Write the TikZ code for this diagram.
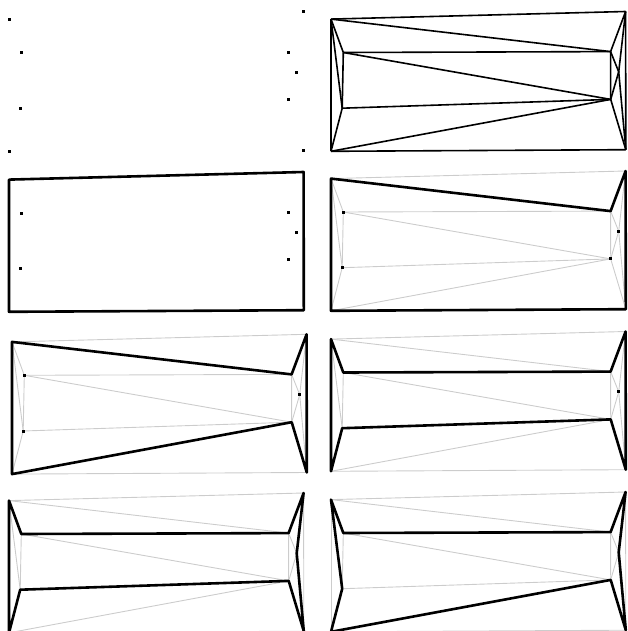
\documentclass[tikz,border=0pt]{standalone}
\usepackage{tikz}
\usetikzlibrary{positioning}
\definecolor{meshgray}{HTML}{CCCCCC}
\tikzset{
  x=1pt, y=-1pt,
  wire/.style={draw=black, line width=1.6pt, line join=round},
  edge/.style={draw=meshgray, line width=0.9pt},
  front/.style={draw=black, line width=2.6pt, line join=round, line cap=round},
  vtx/.style={rectangle, fill=black, minimum size=3pt, inner sep=0pt}
}
% the nine sites of one pane
\newcommand\placesites{%
  \coordinate (tl) at (9,19.6);
  \coordinate (tr) at (303.6,12);
  \coordinate (br) at (303.8,150.2);
  \coordinate (bl) at (9,151.8);
  \coordinate (la) at (21.3,53);
  \coordinate (lb) at (20.2,108.7);
  \coordinate (ra) at (288.6,52.1);
  \coordinate (rb) at (296.7,72.3);
  \coordinate (rc) at (288.7,99.9);
}
\newcommand\meshedges[1]{%
  \foreach \u/\v in {tl/tr,tr/br,br/bl,bl/tl,tl/ra,tl/la,tl/lb,la/lb,bl/lb,
    la/ra,la/rc,lb/rc,bl/rc,tr/ra,tr/rb,br/rb,br/rc,ra/rb,rb/rc,ra/rc}
    \draw[#1] (\u) -- (\v);
}
\newcommand\sitedots[2]{%
  \foreach \p in {#2}
    \node[vtx] (#1-\p) at (\p) {};
}

\begin{document}
\begin{tikzpicture}
  \useasboundingbox (0,0) rectangle (628,631);
  % row 1
  \begin{scope}[shift={(0,0)}]
    \placesites
    \sitedots{a}{tl,tr,br,bl,la,lb,ra,rb,rc}
  \end{scope}
  \begin{scope}[shift={(322,-0.5)}]
    \placesites
    \meshedges{wire}
  \end{scope}
  % row 2
  \begin{scope}[shift={(0,160)}]
    \placesites
    \draw[front] (tl) -- (tr) -- (br) -- (bl) -- cycle;
    \sitedots{c}{la,lb,ra,rb,rc}
  \end{scope}
  \begin{scope}[shift={(322,159)}]
    \placesites
    \meshedges{edge}
    \draw[front] (tl) -- (ra) -- (tr) -- (br) -- (bl) -- cycle;
    \sitedots{d}{la,lb,rb,rc}
  \end{scope}
  % row 3
  \begin{scope}[shift={(3,322.3)}]
    \placesites
    \meshedges{edge}
    \draw[front] (tl) -- (ra) -- (tr) -- (br) -- (rc) -- (bl) -- cycle;
    \sitedots{e}{la,lb,rb}
  \end{scope}
  \begin{scope}[shift={(322,319.5)}]
    \placesites
    \meshedges{edge}
    \draw[front] (tl) -- (la) -- (ra) -- (tr) -- (br) -- (rc) -- (lb) -- (bl) -- cycle;
    \sitedots{f}{rb}
  \end{scope}
  % row 4
  \begin{scope}[shift={(0,481)}]
    \placesites
    \meshedges{edge}
    \draw[front] (tl) -- (la) -- (ra) -- (tr) -- (rb) -- (br) -- (rc) -- (lb) -- (bl) -- cycle;
  \end{scope}
  \begin{scope}[shift={(322,480)}]
    \placesites
    \meshedges{edge}
    \draw[front] (tl) -- (la) -- (ra) -- (tr) -- (rb) -- (br) -- (rc) -- (bl) -- (lb) -- cycle;
  \end{scope}
\end{tikzpicture}
\end{document}
